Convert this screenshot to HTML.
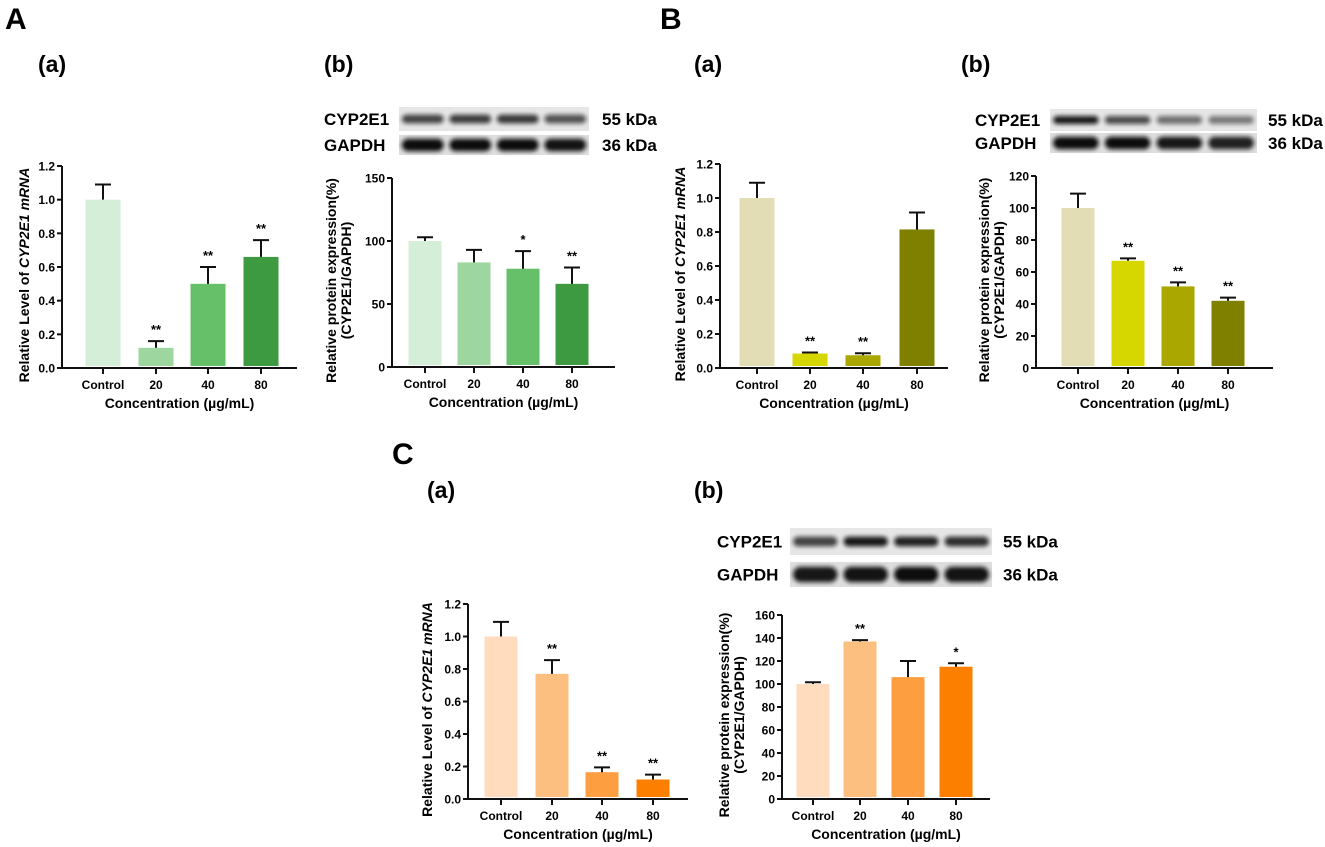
<!DOCTYPE html>
<html><head><meta charset="utf-8">
<style>
html,body{margin:0;padding:0;background:#fff;}
svg{display:block;font-family:"Liberation Sans",Arial,sans-serif;font-weight:bold;}
</style></head>
<body>
<svg id="fig" width="1325" height="847" viewBox="0 0 1325 847" xmlns="http://www.w3.org/2000/svg">
<defs>
<filter id="blur2" x="-20%" y="-50%" width="140%" height="200%"><feGaussianBlur stdDeviation="2.2"/></filter>
</defs>
<text x="5" y="29" font-size="30">A</text>
<text x="660" y="29" font-size="30">B</text>
<text x="392" y="464" font-size="30">C</text>
<text x="38" y="72" font-size="23">(a)</text>
<text x="324" y="72" font-size="23">(b)</text>
<text x="694" y="72" font-size="23">(a)</text>
<text x="961" y="72" font-size="23">(b)</text>
<text x="427" y="498" font-size="23">(a)</text>
<text x="694" y="498" font-size="23">(b)</text>
</svg>
<script>
// ---- data ----
var categories = ["Control","20","40","80"];
// A(a)
var aaValues = [1.0, 0.12, 0.50, 0.66];
var aaErrors = [0.09, 0.04, 0.10, 0.10];
var aaStars = ["", "**", "**", "**"];
var aaTicks = [0, 0.2, 0.4, 0.6, 0.8, 1.0, 1.2];
// A(b)
var abValues = [100, 83, 78, 66];
var abErrors = [3, 10, 14, 13];
var abStars = ["", "", "*", "**"];
var abTicks = [0, 50, 100, 150];
// B(a)
var baValues = [1.0, 0.085, 0.075, 0.815];
var baErrors = [0.09, 0.006, 0.012, 0.10];
var baStars = ["", "**", "**", ""];
var baTicks = [0, 0.2, 0.4, 0.6, 0.8, 1.0, 1.2];
// B(b)
var bbValues = [100, 67, 51, 42];
var bbErrors = [9, 1.5, 2.5, 2];
var bbStars = ["", "**", "**", "**"];
var bbTicks = [0, 20, 40, 60, 80, 100, 120];
// C(a)
var caValues = [1.0, 0.77, 0.165, 0.12];
var caErrors = [0.09, 0.085, 0.03, 0.03];
var caStars = ["", "**", "**", "**"];
var caTicks = [0, 0.2, 0.4, 0.6, 0.8, 1.0, 1.2];
// C(b)
var cbValues = [100, 137, 106, 115];
var cbErrors = [1.5, 1.2, 14, 3];
var cbStars = ["", "**", "", "*"];
var cbTicks = [0, 20, 40, 60, 80, 100, 120, 140, 160];
// blot band intensities
var aCyp = [0.75, 0.78, 0.8, 0.68];
var aGap = [1, 1, 1, 0.97];
var bCyp = [0.95, 0.72, 0.55, 0.5];
var bGap = [1, 1, 0.95, 0.9];
var cCyp = [0.75, 0.95, 0.9, 0.85];
var cGap = [0.95, 0.97, 1, 0.97];

var NS = "http://www.w3.org/2000/svg";
var svg = document.getElementById("fig");
function mk(tag, attrs, parent) {
  var e = document.createElementNS(NS, tag);
  for (var k in attrs) e.setAttribute(k, attrs[k]);
  (parent || svg).appendChild(e);
  return e;
}

function chart(cfg) {
  var g = mk("g", {});
  
  
  var max = cfg.ticks[cfg.ticks.length - 1];
  function yS(v) { return cfg.y0 - (v / max) * (cfg.y0 - cfg.yTop); }
  // bars
  for (var i = 0; i < cfg.values.length; i++) {
    var cx = cfg.centers[i];
    var yt = yS(cfg.values[i]);
    var r = mk("rect", {x: cx - cfg.bw / 2, y: yt, width: cfg.bw, height: cfg.y0 - 2 - yt, fill: cfg.colors[i]}, g);
    
    
    var ye = yS(cfg.values[i] + cfg.errors[i]);
    var eb = mk("path", {d: "M" + cx + "," + yt + "V" + ye + "M" + (cx - 8) + "," + ye + "H" + (cx + 8), stroke: "#111", "stroke-width": 2, fill: "none"}, g);
    
    
    if (cfg.stars[i]) {
      var st = mk("text", {x: cx, y: ye - 7, "text-anchor": "middle", "font-size": 13}, g);
      st.textContent = cfg.stars[i];
      
      
    }
    var tk = mk("line", {x1: cx, x2: cx, y1: cfg.y0, y2: cfg.y0 + 6, stroke: "#111", "stroke-width": 2}, g);
    
    
    var tl = mk("text", {x: cx, y: cfg.y0 + 21, "text-anchor": "middle", "font-size": 12}, g);
    tl.textContent = categories[i];
    
    
  }
  // axes
  var ax = mk("path", {d: "M" + cfg.ax + "," + cfg.yTop + "V" + cfg.y0 + "H" + cfg.axEnd, stroke: "#111", "stroke-width": 2, fill: "none"}, g);
  
  
  for (var j = 0; j < cfg.ticks.length; j++) {
    var v = cfg.ticks[j], yy = yS(v);
    var t = mk("line", {x1: cfg.ax - 5, x2: cfg.ax, y1: yy, y2: yy, stroke: "#111", "stroke-width": 2}, g);
    
    
    var lb = mk("text", {x: cfg.ax - 7, y: yy + 4.5, "text-anchor": "end", "font-size": 12}, g);
    lb.textContent = cfg.dec ? v.toFixed(1) : String(v);
    
    
  }
  var xt = mk("text", {x: (cfg.ax + cfg.axEnd) / 2, y: cfg.y0 + 40, "text-anchor": "middle", "font-size": 14}, g);
  xt.textContent = "Concentration (\u00b5g/mL)";
  
  
  var yc = (cfg.y0 + cfg.yTop) / 2 + 8;
  if (cfg.mrna) {
    var yt2 = mk("text", {x: 0, y: 0, "text-anchor": "middle", "font-size": 14, transform: "translate(" + (cfg.ytx + 5) + "," + yc + ") rotate(-90)"}, g);
    yt2.innerHTML = 'Relative Level of <tspan font-style="italic">CYP2E1 mRNA</tspan>';
    
    
  } else {
    var y1 = mk("text", {x: 0, y: 0, "text-anchor": "middle", "font-size": 14, transform: "translate(" + (cfg.ytx + 5) + "," + yc + ") rotate(-90)"}, g);
    y1.textContent = "Relative protein expression(%)";
    
    
    var y2 = mk("text", {x: 0, y: 0, "text-anchor": "middle", "font-size": 14, transform: "translate(" + (cfg.ytx + 20) + "," + yc + ") rotate(-90)"}, g);
    y2.textContent = "(CYP2E1/GAPDH)";
    
    
  }
}

function blot(cfg) {
  var g = mk("g", {});
  
  
  var rows = [{y: cfg.r1[0], h: cfg.r1[1], v: cfg.cyp, bg: "#e6e6e6", bh: 0.36, lab: "CYP2E1", kda: "55 kDa"},
              {y: cfg.r2[0], h: cfg.r2[1], v: cfg.gap, bg: "#dedede", bh: 0.62, lab: "GAPDH", kda: "36 kDa"}];
  var lw = (cfg.x1 - cfg.x0) / 4;
  rows.forEach(function (r) {
    var bgr = mk("rect", {x: cfg.x0, y: r.y, width: cfg.x1 - cfg.x0, height: r.h, fill: r.bg}, g);
    
    
    for (var i = 0; i < 4; i++) {
      var cx = cfg.x0 + lw * (i + 0.5);
      var bh = r.h * r.bh;
      var b = mk("rect", {x: cx - lw * 0.44, y: r.y + r.h / 2 - bh / 2, width: lw * 0.88, height: bh, rx: bh / 2, fill: "#111", opacity: r.v[i], filter: "url(#blur2)"}, g);
      
      
    }
    var l = mk("text", {x: cfg.lx, y: r.y + r.h / 2 + 6, "font-size": 17}, g);
    l.textContent = r.lab;
    
    
    var k = mk("text", {x: cfg.kx, y: r.y + r.h / 2 + 6, "font-size": 17}, g);
    k.textContent = r.kda;
    
    
  });
}

var green = ["#d5eed7", "#9dd69e", "#66c06a", "#3d9a41"];
var yellow = ["#e2ddb4", "#d6d600", "#aaa800", "#7f7f00"];
var orange = ["#fedcbd", "#fdbf80", "#fd9f40", "#fd7f00"];

chart({name: "chart-A-a", values: aaValues, errors: aaErrors, stars: aaStars, ticks: aaTicks, dec: true, mrna: true,
  ax: 62, axEnd: 297, y0: 368, yTop: 166, centers: [103, 156, 208, 261], bw: 35, colors: green, ytx: 24});
chart({name: "chart-A-b", values: abValues, errors: abErrors, stars: abStars, ticks: abTicks, dec: false, mrna: false,
  ax: 392, axEnd: 615, y0: 367, yTop: 178, centers: [425, 474, 523, 572], bw: 33, colors: green, ytx: 331});
chart({name: "chart-B-a", values: baValues, errors: baErrors, stars: baStars, ticks: baTicks, dec: true, mrna: true,
  ax: 720, axEnd: 948, y0: 368, yTop: 164, centers: [757, 810, 863, 917], bw: 35, colors: yellow, ytx: 680});
chart({name: "chart-B-b", values: bbValues, errors: bbErrors, stars: bbStars, ticks: bbTicks, dec: false, mrna: false,
  ax: 1036, axEnd: 1273, y0: 368, yTop: 176, centers: [1078, 1128, 1178, 1228], bw: 33, colors: yellow, ytx: 984});
chart({name: "chart-C-a", values: caValues, errors: caErrors, stars: caStars, ticks: caTicks, dec: true, mrna: true,
  ax: 468, axEnd: 688, y0: 799, yTop: 604, centers: [501, 552, 602, 653], bw: 33, colors: orange, ytx: 427});
chart({name: "chart-C-b", values: cbValues, errors: cbErrors, stars: cbStars, ticks: cbTicks, dec: false, mrna: false,
  ax: 782, axEnd: 990, y0: 799, yTop: 615, centers: [813, 860, 908, 956], bw: 33, colors: orange, ytx: 724});

blot({name: "western-blot-A", x0: 399, x1: 589, r1: [107, 24], r2: [135, 20], cyp: aCyp, gap: aGap, lx: 324, kx: 602});
blot({name: "western-blot-B", x0: 1050, x1: 1257, r1: [109, 22], r2: [133, 20], cyp: bCyp, gap: bGap, lx: 975, kx: 1268});
blot({name: "western-blot-C", x0: 790, x1: 992, r1: [528, 27], r2: [562, 25], cyp: cCyp, gap: cGap, lx: 717, kx: 1003});
</script>
</body></html>
